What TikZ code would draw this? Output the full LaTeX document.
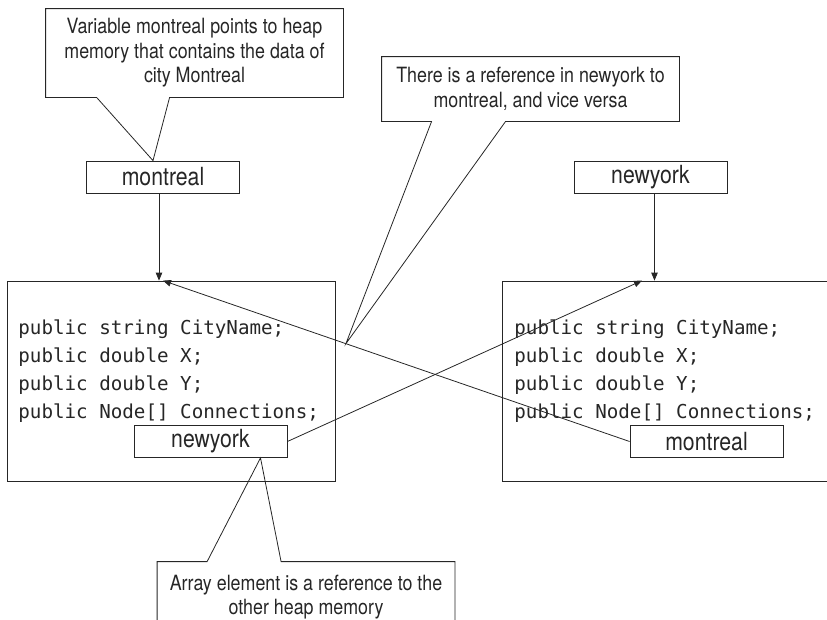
\documentclass[tikz,border=0pt]{standalone}
\usepackage{fontspec}
\setmainfont{TeX Gyre Heros}[FakeStretch=0.85]
\newfontfamily\codefont{DejaVu Sans Mono}
\usetikzlibrary{arrows.meta}

\tikzset{
  refbox/.style={draw, minimum width=153pt, minimum height=32pt, inner sep=0pt,
    font=\fontsize{25}{28}\selectfont},
  heapbox/.style={draw, minimum width=328pt, minimum height=200pt, inner sep=0pt},
  code/.style={anchor=north west, inner sep=0pt, align=left,
    font=\codefont\fontsize{19.2}{28}\selectfont},
  note/.style={minimum width=297pt, inner sep=0pt, align=center,
    font=\fontsize{21}{24.5}\selectfont},
}

\begin{document}
\begin{tikzpicture}[x=1pt, y=-1pt, >={Triangle[length=8pt,width=6.5pt]}, line width=0.8pt, color=black!85]
  \useasboundingbox (0,0) rectangle (827,619);
  % heap memory
  \node[heapbox] (lheap) at (171,381) {};
  \node[heapbox] (rheap) at (666,381) {};
  \node[code] (lcode) at (18,319) {public string CityName;\\public double X;\\public double Y;\\public Node[] Connections;};
  \node[code] (rcode) at (514,319) {public string CityName;\\public double X;\\public double Y;\\public Node[] Connections;};
  % variables
  \node[refbox] (mtop) at (163,177) {montreal};
  \node[refbox] (ntop) at (650.5,177) {newyork};
  \draw[->] ([xshift=-4]mtop.south) -- ([xshift=-4]mtop.south |- lheap.north);
  \draw[->] ([xshift=4]ntop.south) -- ([xshift=4]ntop.south |- rheap.north);
  % array elements
  \node[refbox] (nyin) at (210.5,441.5) {newyork};
  \node[refbox] (mtin) at (706.5,441.5) {montreal};
  \draw[->] (nyin.east) -- ([xshift=-24]rheap.north);
  \draw[->] (mtin.west) -- coordinate[pos=0.608] (cross) ([xshift=-8]lheap.north);
  % notes
  \node[note, minimum height=88pt] (note1) at (194.5,53) {Variable montreal points to heap\\memory that contains the data of\\city Montreal};
  \draw ([xshift=124]note1.south west) -- (note1.south east) -- (note1.north east) -- (note1.north west)
    -- (note1.south west) -- ([xshift=51]note1.south west) -- ([xshift=-10]mtop.north) -- cycle;
  \node[note, minimum height=64pt] (note2) at (530.5,89) {There is a reference in newyork to\\montreal, and vice versa};
  \draw ([xshift=124]note2.south west) -- (note2.south east) -- (note2.north east) -- (note2.north west)
    -- (note2.south west) -- ([xshift=50]note2.south west) -- (cross) -- cycle;
  \node[note, minimum height=70pt] (note3) at (306,597) {Array element is a reference to the\\other heap memory};
  \draw ([xshift=50]note3.north west) -- (note3.north west) -- (note3.south west) -- (note3.south east)
    -- (note3.north east) -- ([xshift=124]note3.north west) -- ([xshift=50]nyin.south) -- cycle;
\end{tikzpicture}
\end{document}
